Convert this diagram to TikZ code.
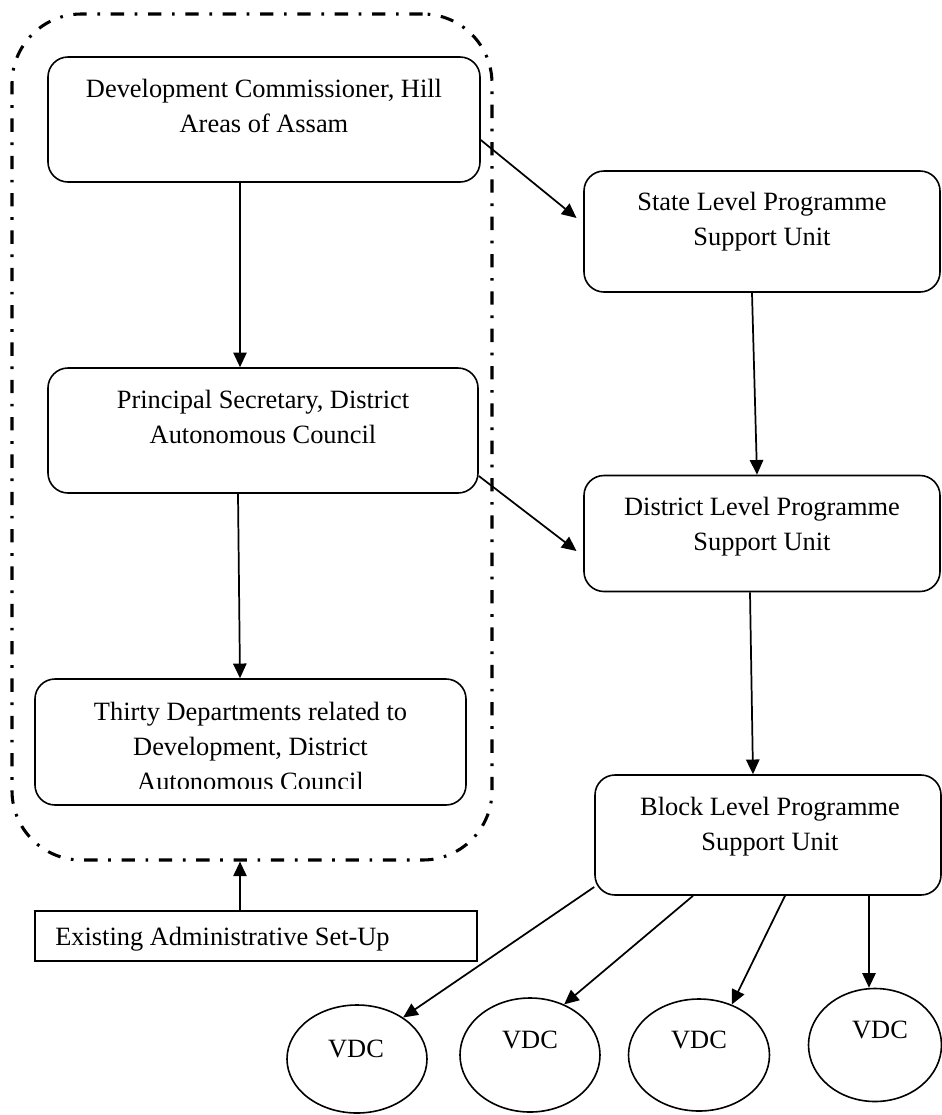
\documentclass[tikz,border=0pt]{standalone}
\usepackage{fontspec}
\setmainfont{Liberation Serif}
\usetikzlibrary{arrows.meta,shapes.geometric}
\tikzset{
  box/.style={draw,line width=1.2pt,rounded corners=15pt,inner sep=0pt},
  plainbox/.style={draw,line width=1.2pt,inner sep=0pt},
  grp/.style={draw,line width=2.3pt,rounded corners=52pt,inner sep=0pt,
    dash pattern=on 10pt off 8pt on 2pt off 8pt},
  vdc/.style={draw,ellipse,line width=1.2pt,inner sep=0pt},
  txt/.style={inner sep=0pt,align=center,font=\fontsize{19.8}{26.25}\selectfont},
  arr/.style={line width=1.3pt,-{Triangle[length=11pt,width=10pt]}}
}
\begin{document}
\begin{tikzpicture}[x=0.75pt,y=-0.75pt]
\useasboundingbox (0,0) rectangle (942,1115);
% group border
\node[grp,minimum width=360pt,minimum height=634.5pt] (group) at (252,437) {};
% left boxes
\node[box,minimum width=324pt,minimum height=93.75pt] (dc) at (264,119.5) {};
\node[txt,anchor=north] (dct) at (264,79) {Development Commissioner, Hill\\Areas of Assam};
\node[box,minimum width=322.5pt,minimum height=93.75pt] (ps) at (263,430.5) {};
\node[txt,anchor=north] (pst) at (263,390) {Principal Secretary, District\\Autonomous Council};
\node[box,minimum width=323.25pt,minimum height=94.5pt] (td) at (250.5,742) {};
\begin{scope}
\clip (35,679) rectangle (466,788);
\node[txt,anchor=north] (tdt) at (250.5,702) {Thirty Departments related to\\Development, District\\Autonomous Council};
\end{scope}
% right boxes
\node[box,minimum width=267pt,minimum height=90.75pt] (sl) at (762,231.5) {};
\node[txt,anchor=north] (slt) at (762,192) {State Level Programme\\Support Unit};
\node[box,minimum width=267pt,minimum height=87pt] (dl) at (762,533.5) {};
\node[txt,anchor=north] (dlt) at (762,497) {District Level Programme\\Support Unit};
\node[box,minimum width=259.5pt,minimum height=90pt] (bl) at (768,835) {};
\node[txt,anchor=north] (blt) at (770,797) {Block Level Programme\\Support Unit};
% existing set-up
\node[plainbox,minimum width=331.5pt,minimum height=37.5pt] (ex) at (256,936) {};
\node[txt,anchor=base west] (ext) at (55,945) {Existing Administrative Set-Up};
% VDCs
\node[vdc,minimum width=105pt,minimum height=81pt] (v1) at (357,1059) {};
\node[vdc,minimum width=105pt,minimum height=85.5pt] (v2) at (530,1055) {};
\node[vdc,minimum width=105.75pt,minimum height=84pt] (v3) at (699,1055) {};
\node[vdc,minimum width=99.75pt,minimum height=84.75pt] (v4) at (875,1045) {};
\node[txt,anchor=base] (v1t) at (356,1057) {VDC};
\node[txt,anchor=base] (v2t) at (530,1048) {VDC};
\node[txt,anchor=base] (v3t) at (699,1048) {VDC};
\node[txt,anchor=base] (v4t) at (880,1038) {VDC};
% connectors
\draw[arr] (dc.south -| 240,0) -- (ps.north -| 240,0);
\draw[arr] (ps.south -| 238,0) -- (td.north -| 240,0);
\draw[arr] (dc.east |- 0,140) -- ([xshift=-5pt]sl.west |- 0,218);
\draw[arr] (ps.east |- 0,476) -- ([xshift=-5pt]dl.west |- 0,551);
\draw[arr] (sl.south -| 752,0) -- (dl.north -| 757,0);
\draw[arr] (dl.south -| 750,0) -- (bl.north -| 753,0);
\draw[arr] (ex.north -| 240,0) -- (group.south -| 240,0);
\draw[arr] (bl.west |- 0,887) -- (v1.42);
\draw[arr] (bl.south -| 693,0) -- (v2.56);
\draw[arr] (bl.south -| 785,0) -- (v3.57);
\draw[arr] (bl.south -| 869,0) -- (v4.north -| 869,0);
\end{tikzpicture}
\end{document}
